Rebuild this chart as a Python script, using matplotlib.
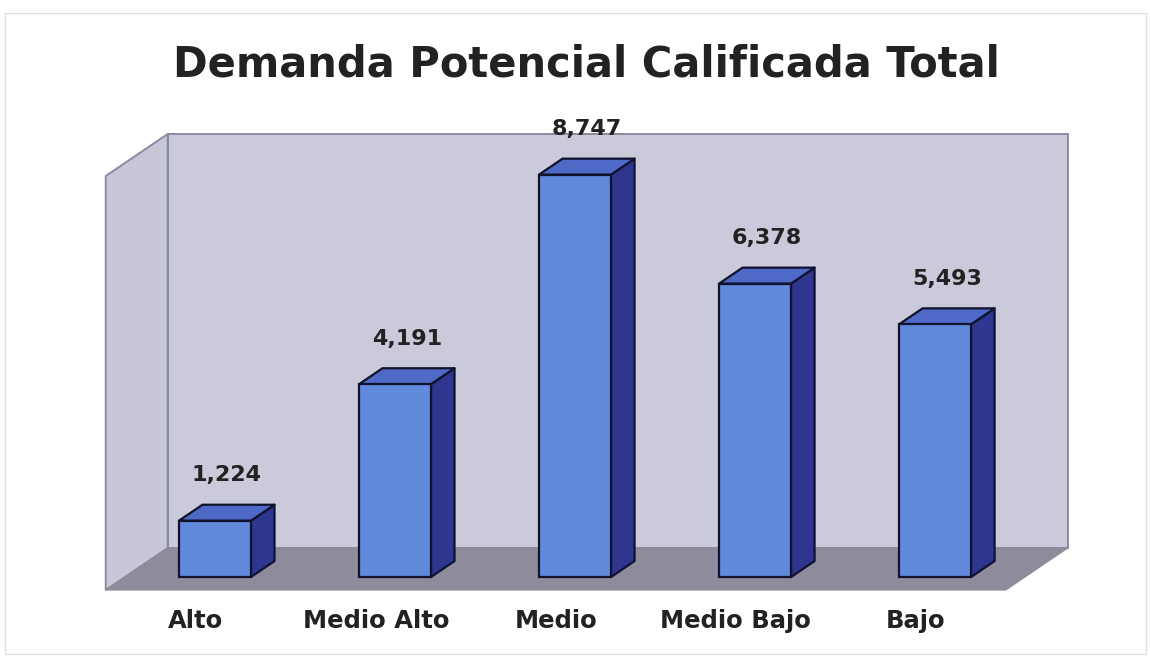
import matplotlib
matplotlib.use("Agg")
import matplotlib.pyplot as plt
from matplotlib.patches import Polygon, Rectangle

categories = ["Alto", "Medio Alto", "Medio", "Medio Bajo", "Bajo"]
values = [1224, 4191, 8747, 6378, 5493]
value_labels = ["1,224", "4,191", "8,747", "6,378", "5,493"]
title = "Demanda Potencial Calificada Total"
axis_max = 9000

# Oblique projection: one full unit of depth shifts right by DX (category units)
# and up by DY (value units). Bar front faces lie in the plane d = BAR_D0.
DX, DY = 0.344, 913.0
BAR_D0, BAR_D1 = 0.31, 0.69
BAR_W = 0.4

FRONT = "#6189DC"
TOP = "#4E69C6"
SIDE = "#2F3690"
BAR_EDGE = "#10122e"
BACK_WALL = "#CBCADB"
SIDE_WALL = "#C8C7D8"
FLOOR = "#8E8B9B"
WALL_EDGE = "#8A8AA2"
TEXT = "#222222"


def proj(x, v, d):
    return (x + (d - BAR_D0) * DX, v + (d - BAR_D0) * DY)


fig = plt.figure(figsize=(11.5, 6.57), dpi=100)
fig.patch.set_facecolor("white")
ax = fig.add_axes([0, 0, 1, 1])
ax.set_xlim(-1.194, 5.194)
ax.set_ylim(-1739, 12543)
ax.axis("off")

n = len(categories)
x_lo, x_hi = -0.5, n - 0.5

# walls and floor
back = [proj(x_lo, 0, 1), proj(x_hi, 0, 1), proj(x_hi, axis_max, 1), proj(x_lo, axis_max, 1)]
left = [proj(x_lo, 0, 0), proj(x_lo, 0, 1), proj(x_lo, axis_max, 1), proj(x_lo, axis_max, 0)]
floor = [proj(x_lo, 0, 0), proj(x_hi, 0, 0), proj(x_hi, 0, 1), proj(x_lo, 0, 1)]
ax.add_patch(Polygon(back, closed=True, fc=BACK_WALL, ec=WALL_EDGE, lw=1.4, zorder=1))
ax.add_patch(Polygon(left, closed=True, fc=SIDE_WALL, ec=WALL_EDGE, lw=1.4, zorder=1))
ax.add_patch(Polygon(floor, closed=True, fc=FLOOR, ec=FLOOR, lw=0.8, zorder=2))

# bars: front faces through ax.bar, top and side faces as projected polygons
xs = list(range(n))
ax.bar(xs, values, width=BAR_W, color=FRONT, edgecolor=BAR_EDGE, linewidth=1.6, zorder=5)
for i, v in zip(xs, values):
    xl, xr = i - BAR_W / 2, i + BAR_W / 2
    top = [proj(xl, v, BAR_D0), proj(xr, v, BAR_D0), proj(xr, v, BAR_D1), proj(xl, v, BAR_D1)]
    side = [proj(xr, 0, BAR_D0), proj(xr, 0, BAR_D1), proj(xr, v, BAR_D1), proj(xr, v, BAR_D0)]
    ax.add_patch(Polygon(side, closed=True, fc=SIDE, ec=BAR_EDGE, lw=1.6, zorder=4, joinstyle="round"))
    ax.add_patch(Polygon(top, closed=True, fc=TOP, ec=BAR_EDGE, lw=1.6, zorder=4, joinstyle="round"))

# value labels above each bar's top face
for i, v, lab in zip(xs, values, value_labels):
    ax.annotate(lab, xy=proj(i, v, 0.5), xytext=(0, 27), textcoords="offset points",
                ha="center", va="center", fontsize=16, fontweight="bold",
                family="DejaVu Sans", color=TEXT, zorder=6)

# category labels under the floor's front edge
for i, cat in zip(xs, categories):
    ax.annotate(cat, xy=proj(i, 0, 0), xytext=(0, -22), textcoords="offset points",
                ha="center", va="center", fontsize=17.5, fontweight="bold",
                family="DejaVu Sans", color=TEXT, zorder=6)

fig.text(0.510, 0.902, title, ha="center", va="center", fontsize=30,
         fontweight="bold", family="DejaVu Sans", color=TEXT)

# light chart-area border
fig.add_artist(Rectangle((5 / 1150, 3 / 657), 1141 / 1150, 641 / 657,
                         transform=fig.transFigure, fill=False, ec="#e2e2e2", lw=1.0))

fig.savefig("out.png", dpi=100)
